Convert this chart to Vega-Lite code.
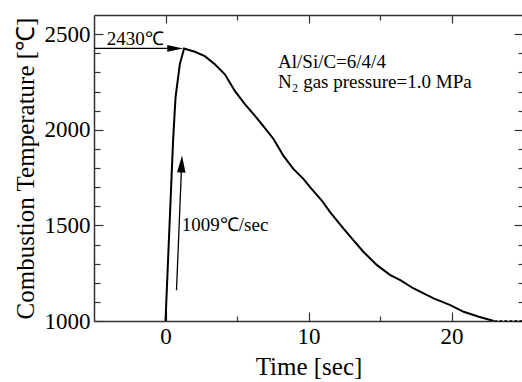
{
  "$schema": "https://vega.github.io/schema/vega-lite/v6.json",
  "width": 429,
  "height": 306,
  "autosize": "none",
  "padding": {"left": 94, "top": 15, "right": 0, "bottom": 61},
  "background": "white",
  "config": {
    "view": {"stroke": null},
    "font": "Liberation Serif",
    "axis": {
      "domainColor": "#333",
      "domainWidth": 1.5,
      "tickColor": "#333",
      "tickWidth": 1.2,
      "grid": false,
      "labelFont": "Liberation Serif",
      "labelFontSize": 23,
      "labelColor": "black",
      "titleFont": "Liberation Serif",
      "titleFontSize": 25,
      "titleFontWeight": "normal",
      "titleColor": "black"
    }
  },
  "datasets": {
    "curve": [
      {"t": 0, "T": 1000}, {"t": 0.53, "T": 1943}, {"t": 0.7, "T": 2168}, {"t": 1.0, "T": 2342},
      {"t": 1.3, "T": 2425}, {"t": 2.05, "T": 2408}, {"t": 2.75, "T": 2385}, {"t": 3.45, "T": 2342},
      {"t": 4.15, "T": 2290}, {"t": 4.85, "T": 2203}, {"t": 5.55, "T": 2134}, {"t": 6.26, "T": 2073},
      {"t": 6.73, "T": 2030}, {"t": 7.54, "T": 1953}, {"t": 8.24, "T": 1865}, {"t": 8.94, "T": 1795},
      {"t": 9.64, "T": 1743}, {"t": 10.11, "T": 1700}, {"t": 10.93, "T": 1630}, {"t": 11.51, "T": 1569},
      {"t": 12.45, "T": 1483}, {"t": 13.15, "T": 1422}, {"t": 13.85, "T": 1361}, {"t": 14.79, "T": 1292},
      {"t": 15.72, "T": 1240}, {"t": 16.42, "T": 1214}, {"t": 17.35, "T": 1170}, {"t": 18.75, "T": 1118},
      {"t": 19.92, "T": 1083}, {"t": 20.85, "T": 1048}, {"t": 21.91, "T": 1022}, {"t": 22.96, "T": 1000}
    ],
    "tail": [{"t": 23, "T": 1000}, {"t": 25, "T": 1000}],
    "arrows": [
      {"t": -5, "T": 2425, "t2": 0.3, "T2": 2425},
      {"t": 0.77, "T": 1161, "t2": 1.11, "T2": 1785}
    ],
    "heads": [
      {"t": 0.68, "T": 2425, "dir": "right", "ang": 0},
      {"t": 1.13, "T": 1821, "dir": "up", "ang": 2.4}
    ],
    "labels": [
      {"t": -4.1, "T": 2474, "label": "2430℃"},
      {"t": 7.87, "T": 2355, "label": "Al/Si/C=6/4/4"},
      {"t": 7.87, "T": 2252, "label": "N₂ gas pressure=1.0 MPa"},
      {"t": 1.14, "T": 1500, "label": "1009℃/sec"}
    ]
  },
  "resolve": {"axis": {"x": "independent", "y": "independent"}},
  "layer": [
    {
      "data": {"name": "curve"},
      "mark": {"type": "line", "color": "black", "strokeWidth": 2, "clip": true},
      "encoding": {
        "x": {
          "field": "t", "type": "quantitative",
          "scale": {"domain": [-5, 25], "nice": false, "zero": false},
          "axis": {
            "orient": "bottom", "title": "Time [sec]",
            "values": [0, 5, 10, 15, 20],
            "format": "d",
            "labelExpr": "datum.value % 10 === 0 ? datum.label : ''",
            "tickSize": {"condition": {"test": "datum.value % 10 === 0", "value": -9}, "value": -5},
            "labelPadding": 13,
            "titlePadding": 6
          }
        },
        "y": {
          "field": "T", "type": "quantitative",
          "scale": {"domain": [1000, 2600], "nice": false, "zero": false},
          "axis": {
            "orient": "left", "title": "Combustion Temperature [℃]",
            "values": [1000, 1100, 1200, 1300, 1400, 1500, 1600, 1700, 1800, 1900, 2000, 2100, 2200, 2300, 2400, 2500],
            "format": "d",
            "labelExpr": "datum.value % 500 === 0 ? datum.label : ''",
            "tickSize": {"condition": {"test": "datum.value % 500 === 0", "value": -9}, "value": -6},
            "labelPadding": 13,
            "titlePadding": 6
          }
        }
      }
    },
    {
      "data": {"name": "tail"},
      "mark": {"type": "line", "color": "black", "strokeWidth": 1.5, "strokeDash": [3, 2], "clip": false},
      "encoding": {
        "x": {
          "field": "t", "type": "quantitative",
          "axis": {
            "orient": "top", "title": null, "labels": false,
            "values": [0, 5, 10, 15, 20],
            "tickSize": {"condition": {"test": "datum.value % 10 === 0", "value": -8}, "value": -5}
          }
        },
        "y": {
          "field": "T", "type": "quantitative",
          "axis": {
            "orient": "right", "title": null, "labels": false,
            "values": [1000, 1100, 1200, 1300, 1400, 1500, 1600, 1700, 1800, 1900, 2000, 2100, 2200, 2300, 2400, 2500],
            "tickSize": {"condition": {"test": "datum.value % 500 === 0", "value": -9}, "value": -5}
          }
        }
      }
    },
    {
      "data": {"name": "arrows"},
      "mark": {"type": "rule", "color": "black", "strokeWidth": 1.3},
      "encoding": {
        "x": {"field": "t", "type": "quantitative", "axis": null},
        "y": {"field": "T", "type": "quantitative", "axis": null},
        "x2": {"field": "t2"},
        "y2": {"field": "T2"}
      }
    },
    {
      "data": {"name": "heads"},
      "mark": {"type": "point", "filled": true, "color": "black", "opacity": 1, "strokeWidth": 0},
      "encoding": {
        "x": {"field": "t", "type": "quantitative", "axis": null},
        "y": {"field": "T", "type": "quantitative", "axis": null},
        "angle": {"field": "ang", "type": "quantitative", "scale": {"domain": [0, 360], "range": [0, 360]}},
        "shape": {
          "field": "dir", "type": "nominal", "legend": null,
          "scale": {"domain": ["right", "up"], "range": ["M-1,-0.42L1,0L-1,0.42Z", "M-0.5,1L0,-1L0.5,1Z"]}
        },
        "size": {"field": "dir", "type": "nominal", "legend": null,
          "scale": {"domain": ["right", "up"], "range": [256, 289]}}
      }
    },
    {
      "data": {"name": "labels"},
      "mark": {"type": "text", "align": "left", "baseline": "middle", "font": "Liberation Serif", "fontSize": 19, "color": "black"},
      "encoding": {
        "x": {"field": "t", "type": "quantitative", "axis": null},
        "y": {"field": "T", "type": "quantitative", "axis": null},
        "text": {"field": "label", "type": "nominal"}
      }
    }
  ]
}
